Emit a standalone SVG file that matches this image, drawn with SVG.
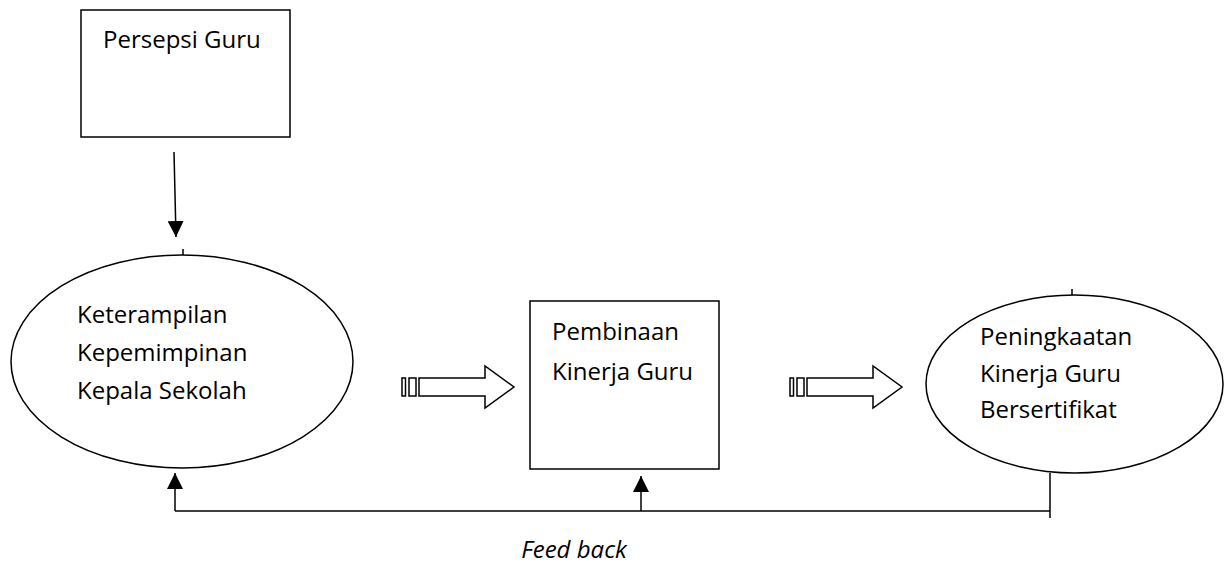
<svg xmlns="http://www.w3.org/2000/svg" width="1231" height="570" viewBox="0 0 1231 570">
  <style>
    .shape { fill: #ffffff; stroke: #000000; stroke-width: 1.5; }
    .line { fill: none; stroke: #000000; stroke-width: 1.5; }
    .label { font-family: "Open Sans", "Noto Sans", "Liberation Sans", sans-serif; font-size: 24px; fill: #000000; }
    .italic { font-style: italic; }
  </style>
  <defs>
    <marker id="head" viewBox="0 0 16 16" refX="16" refY="8" markerWidth="16" markerHeight="16" markerUnits="userSpaceOnUse" orient="auto">
      <path d="M0,0 L16,8 L0,16 Z" fill="#000000"/>
    </marker>
    <g id="striped-arrow">
      <rect x="0" y="-9" width="3.5" height="18" class="shape"/>
      <rect x="7" y="-9" width="7" height="18" class="shape"/>
      <path d="M17,-9 H83 V-21 L112,0 L83,21 V9 H17 Z" class="shape"/>
    </g>
  </defs>
  <rect width="1231" height="570" fill="#ffffff"/>

  <g id="node-persepsi-guru">
    <rect x="81" y="10" width="209" height="127" class="shape"/>
    <text x="103" y="48" class="label">Persepsi Guru</text>
  </g>

  <g id="node-keterampilan">
    <ellipse cx="182" cy="361.5" rx="171" ry="106.5" class="shape"/>
    <line x1="183" y1="249" x2="183" y2="255" class="line"/>
    <text class="label">
      <tspan x="77" y="323">Keterampilan</tspan>
      <tspan x="77" y="361">Kepemimpinan</tspan>
      <tspan x="77" y="399">Kepala Sekolah</tspan>
    </text>
  </g>

  <g id="node-pembinaan">
    <rect x="530" y="301" width="189" height="168" class="shape"/>
    <text class="label">
      <tspan x="552" y="340">Pembinaan</tspan>
      <tspan x="552" y="380">Kinerja Guru</tspan>
    </text>
  </g>

  <g id="node-peningkatan">
    <ellipse cx="1074.5" cy="384" rx="148.5" ry="89" class="shape"/>
    <line x1="1072" y1="289" x2="1072" y2="295" class="line"/>
    <text class="label">
      <tspan x="980" y="345">Peningkaatan</tspan>
      <tspan x="980" y="382">Kinerja Guru</tspan>
      <tspan x="980" y="418">Bersertifikat</tspan>
    </text>
  </g>

  <g id="connectors">
    <line x1="174" y1="152" x2="176" y2="237" class="line" marker-end="url(#head)"/>
    <use href="#striped-arrow" transform="translate(402,387)"/>
    <use href="#striped-arrow" transform="translate(790,387)"/>
    <line x1="175" y1="511" x2="1050" y2="511" class="line"/>
    <line x1="1050" y1="473" x2="1050" y2="518" class="line"/>
    <line x1="175" y1="511" x2="175" y2="473" class="line" marker-end="url(#head)"/>
    <line x1="641" y1="511" x2="641" y2="476" class="line" marker-end="url(#head)"/>
  </g>

  <g id="feedback-label">
    <text x="574" y="558" text-anchor="middle" class="label italic">Feed back</text>
  </g>
</svg>
